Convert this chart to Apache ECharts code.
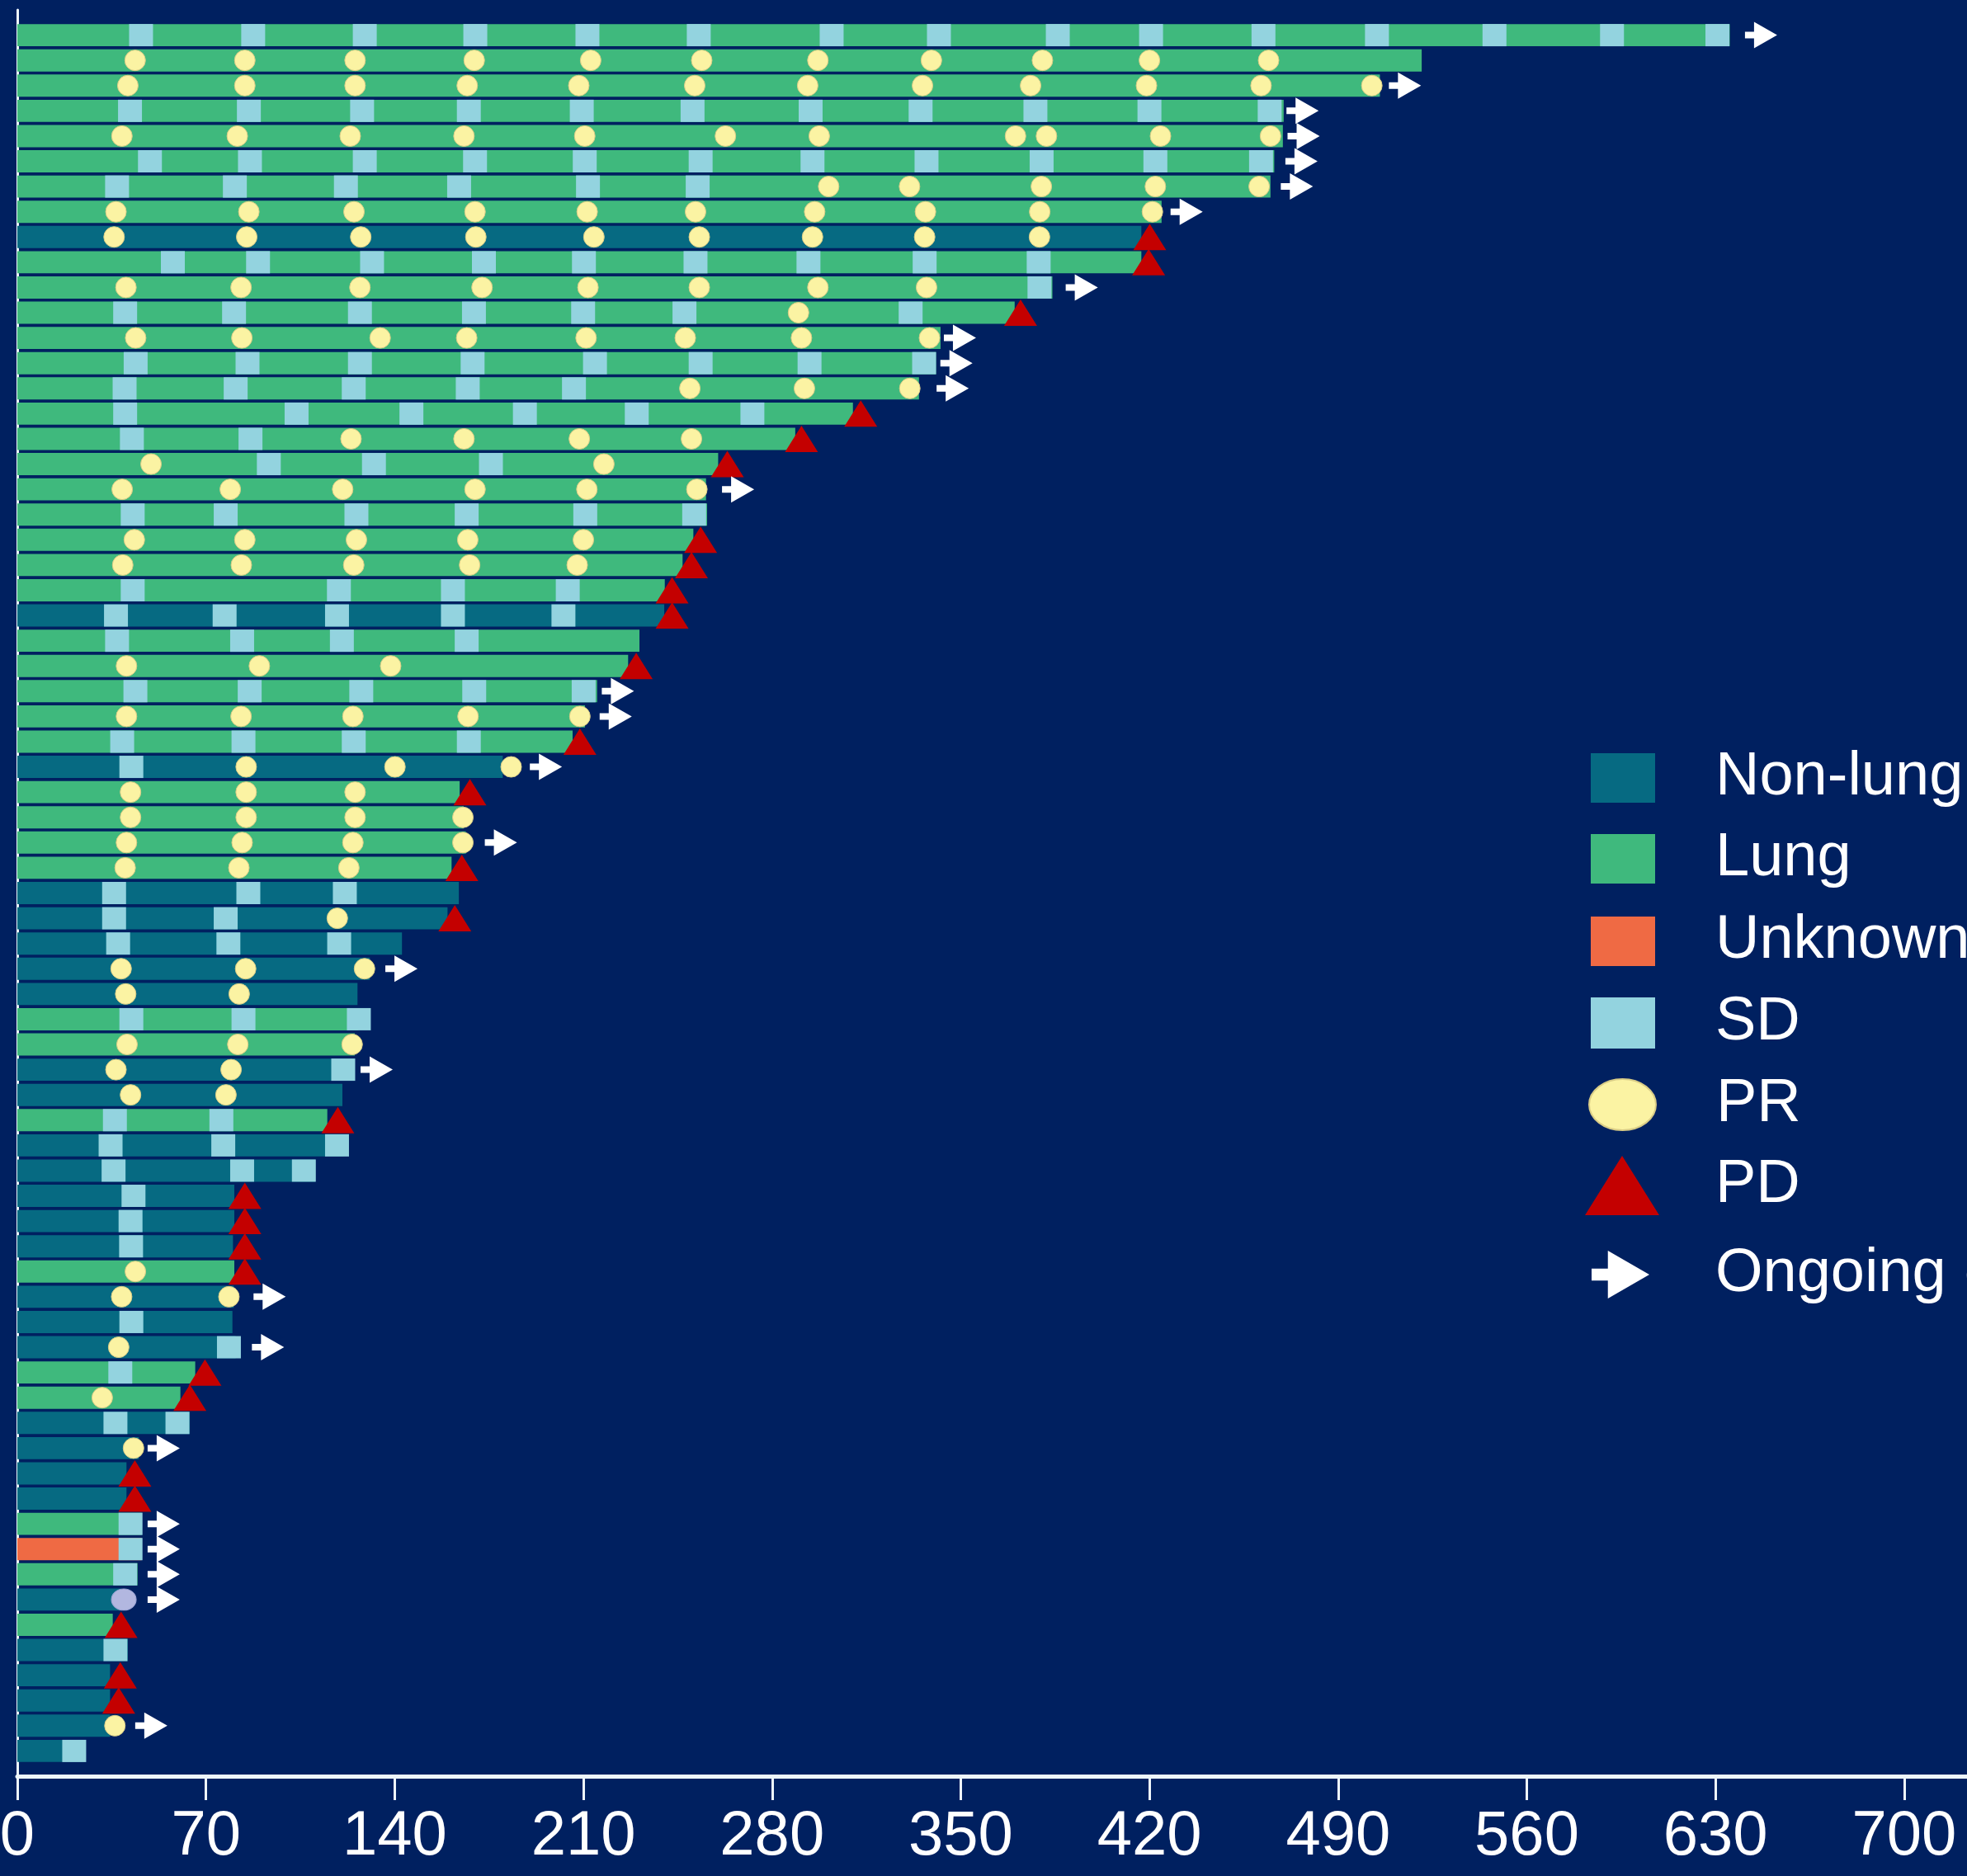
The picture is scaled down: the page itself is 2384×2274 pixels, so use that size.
<!DOCTYPE html>
<html>
<head>
<meta charset="utf-8">
<script src="https://cdn.jsdelivr.net/npm/echarts@6/dist/echarts.min.js"></script>
<style>
  html, body { margin: 0; padding: 0; background: #002060; }
  #chart { width: 2384px; height: 2274px; }
</style>
</head>
<body>
<div id="chart"></div>
<script>
// Tumour origin per patient, top row first: L = lung, N = non-lung, U = unknown
const tumorType = [
  'L','L','L','L','L','L','L','L','N','L',
  'L','L','L','L','L','L','L','L','L','L',
  'L','L','L','N','L','L','L','L','L','N',
  'L','L','L','L','N','N','N','N','N','L',
  'L','N','N','L','N','N','N','N','N','L',
  'N','N','N','L','L','N','N','N','N','L',
  'U','L','N','L','N','N','N','N','N'
];

// Time on treatment (days)
const durationDays = [
  635.3, 521, 505.5, 469.8, 469.5, 466.3, 464.9, 424.5, 417, 417,
  384, 370, 342.5, 340.8, 334.5, 310, 288.6, 260, 255.5, 255.9,
  250.8, 246.8, 240.2, 240, 230.8, 226.6, 215.1, 210.6, 206, 180.1,
  164.1, 165.6, 166.4, 161.1, 163.8, 159.6, 142.7, 130.8, 126.2, 126.5,
  125.2, 125, 120.6, 115, 121, 110.5, 80.5, 80.5, 80, 80.5,
  80.3, 79.8, 81, 66, 60.5, 64, 45.1, 40.5, 40.5, 46.1,
  46.1, 44.6, 38.5, 35.4, 41, 34.4, 34.4, 34.4, 24.7
];

// Assessment days with stable disease
const sdDays = [
  [45.9, 87.5, 128.9, 169.9, 211.5, 252.8, 302.1, 341.9, 386.0, 420.6, 462.3, 504.4, 548.0, 591.6, 630.7],
  [], [],
  [41.8, 85.9, 127.9, 167.5, 209.4, 250.5, 294.3, 335.1, 377.7, 420.0, 464.6],
  [],
  [49.2, 86.3, 128.9, 169.8, 210.5, 253.5, 295.0, 337.3, 380.0, 422.2, 461.4],
  [37.0, 80.7, 121.9, 163.9, 211.7, 252.4],
  [], [],
  [57.7, 89.3, 131.6, 173.1, 210.2, 251.6, 293.5, 336.6, 378.9],
  [379.2],
  [40.0, 80.4, 127.1, 169.4, 209.9, 247.5, 331.4],
  [],
  [43.9, 85.4, 127.1, 168.9, 214.3, 253.5, 293.9, 336.4],
  [39.8, 81.0, 124.8, 167.1, 206.5],
  [40.0, 103.6, 146.2, 188.3, 229.8, 272.7],
  [42.5, 86.5],
  [93.3, 132.3, 175.7],
  [],
  [42.8, 77.3, 125.8, 166.7, 210.7, 251.1],
  [], [],
  [42.8, 119.3, 161.6, 204.2],
  [36.6, 76.9, 118.6, 161.6, 202.6],
  [37.0, 83.4, 120.4, 166.7],
  [],
  [43.8, 86.2, 127.6, 169.5, 210.1],
  [],
  [38.9, 83.9, 124.8, 167.5],
  [42.3],
  [], [], [], [],
  [35.9, 85.7, 121.5],
  [35.9, 77.3],
  [37.4, 78.3, 119.4],
  [], [],
  [42.3, 83.9, 126.7],
  [],
  [120.9],
  [],
  [36.2, 75.7],
  [34.6, 76.4, 118.6],
  [35.7, 83.4, 106.3],
  [43.1], [42.0], [42.2],
  [], [],
  [42.3],
  [78.5],
  [38.2],
  [],
  [36.4, 59.4],
  [], [], [],
  [42.0], [42.0], [40.0],
  [], [],
  [36.4],
  [], [], [],
  [21.1]
];

// Assessment days with partial response
const prDays = [
  [],
  [43.7, 84.4, 125.3, 169.5, 212.7, 253.9, 297.0, 339.1, 380.3, 420.0, 464.2],
  [41.0, 84.4, 125.3, 166.9, 208.3, 251.3, 293.2, 335.8, 375.9, 418.9, 461.4, 502.5],
  [],
  [38.8, 81.6, 123.5, 165.7, 210.5, 262.7, 297.5, 370.3, 381.8, 424.1, 464.9],
  [],
  [301.0, 331.0, 379.9, 422.2, 460.7],
  [36.6, 85.9, 124.9, 169.8, 211.4, 251.6, 295.8, 336.9, 379.3, 421.1],
  [35.9, 85.1, 127.4, 170.1, 213.9, 253.0, 295.0, 336.6, 379.2],
  [],
  [40.3, 83.0, 127.1, 172.4, 211.7, 253.0, 297.0, 337.3],
  [289.8],
  [43.9, 83.3, 134.6, 166.7, 211.0, 247.8, 290.9, 338.4],
  [],
  [249.5, 292.0, 331.1],
  [],
  [123.8, 165.7, 208.5, 250.1],
  [49.6, 217.6],
  [38.9, 79.0, 120.7, 169.8, 211.3, 252.1],
  [],
  [43.4, 84.4, 125.8, 167.1, 210.0],
  [39.1, 83.1, 124.8, 167.8, 207.7],
  [], [], [],
  [40.5, 89.8, 138.5],
  [],
  [40.5, 83.0, 124.5, 167.2, 208.7],
  [],
  [84.9, 140.1, 183.2],
  [42.0, 84.9, 125.3],
  [42.0, 84.9, 125.3, 165.3],
  [40.5, 83.4, 124.5, 165.3],
  [40.0, 82.2, 123.0],
  [],
  [118.7],
  [],
  [38.5, 84.7, 128.8],
  [40.2, 82.3],
  [],
  [40.7, 81.8, 124.2],
  [36.6, 79.3],
  [42.0, 77.4],
  [], [], [], [], [], [],
  [43.8],
  [38.7, 78.5],
  [],
  [37.6],
  [],
  [31.5],
  [],
  [43.1],
  [], [], [], [], [],
  [39.5],
  [], [], [], [],
  [36.2],
  []
];

// Patients whose response marker is drawn in lavender
const lavenderPrPatients = [63];

// Day of progressive disease
const pdDay = [
  null, null, null, null, null, null, null, null, 420.1, 419.7,
  null, 372.2, null, null, null, 312.9, 290.9, 263.4, null, null,
  253.5, 250.1, 242.9, 242.9, null, 229.6, null, null, 208.7, null,
  167.9, null, null, 164.9, null, 162.3, null, null, null, null,
  null, null, null, 118.9, null, null, 84.4, 84.4, 84.4, 84.4,
  null, null, null, 69.6, 64.0, null, null, 43.6, 43.6, null,
  null, null, null, 38.5, null, 38.2, 37.6, null, null
];

// Position of the "ongoing" arrow
const ongoingDay = [
  646.9, null, 514.8, 476.8, 477.2, 476.4, 474.7, 433.8, null, null,
  394.9, null, 349.7, 348.4, 347.0, null, null, null, 267.4, null,
  null, null, null, null, null, null, 222.8, 222.0, null, 196.1,
  null, null, 179.4, null, null, null, null, 142.5, null, null,
  null, 133.3, null, null, null, null, null, null, null, null,
  93.6, null, 93.0, null, null, null, 54.3, null, null, 54.3,
  54.3, 54.3, 54.3, null, null, null, null, 49.7, null
];

const xTicks = [0, 70, 140, 210, 280, 350, 420, 490, 560, 630, 700];

const legendNames = {
  N: 'Non-lung', L: 'Lung', U: 'Unknown',
  SD: 'SD', PR: 'PR', PD: 'PD', ONGOING: 'Ongoing (on treatment)'
};

// ---- drawing ----
const COLORS = {
  N: '#066a82', L: '#3fb97d', U: '#ef6a44',
  SD: '#93d3df', PR: '#fbf3a3', PRedge: '#d9cc86',
  PRlav: '#b2b7e0', PD: '#c40000', arrow: '#ffffff',
  axis: '#eef6fb', text: '#ffffff'
};
const ARROW = 'path://M0,12 L11,12 L11,0 L39,16 L11,32 L11,20 L0,20 Z';
const ELLIPSE = 'path://M50,0C77.6,0,100,22.4,100,50C100,77.6,77.6,100,50,100C22.4,100,0,77.6,0,50C0,22.4,22.4,0,50,0Z';
const FONT = '"Liberation Sans", Arial, Helvetica, sans-serif';

const patientNo = durationDays.map((_, i) => i + 1);

function barSeries(code) {
  const color = COLORS[code];
  return {
    type: 'custom',
    name: legendNames[code],
    itemStyle: { color },
    encode: { x: 0, y: 1 },
    z: 1,
    data: patientNo.filter(p => tumorType[p - 1] === code).map(p => [durationDays[p - 1], p]),
    renderItem: (params, api) => {
      const row = api.value(1);
      const s = api.coord([0, row]);
      const e = api.coord([api.value(0), row]);
      const h = api.size([0, 1])[1] * 0.88;
      return {
        type: 'rect',
        shape: { x: s[0], y: s[1] - h / 2, width: e[0] - s[0], height: h },
        style: { fill: color }
      };
    }
  };
}

const sdPoints = [];
sdDays.forEach((days, i) => days.forEach(d => sdPoints.push([d, i + 1])));

const prPoints = [];
prDays.forEach((days, i) => days.forEach(d => {
  const p = i + 1;
  if (lavenderPrPatients.includes(p)) {
    prPoints.push({
      value: [d, p], symbol: ELLIPSE, symbolSize: [30, 26],
      itemStyle: { color: COLORS.PRlav, borderColor: '#9ea6d6' }
    });
  } else {
    prPoints.push([d, p]);
  }
}));

const pdPoints = [];
pdDay.forEach((d, i) => { if (d != null) pdPoints.push([d, i + 1]); });

const ongoingPoints = [];
ongoingDay.forEach((d, i) => { if (d != null) ongoingPoints.push([d, i + 1]); });

function legendItem(name, icon, w, h, cy, iconLeft) {
  const textLeft = 2079;
  const box = Math.max(h, 74);
  return {
    data: [name],
    orient: 'vertical',
    left: iconLeft,
    top: cy - box / 2,
    padding: 0,
    icon: icon,
    itemWidth: w,
    itemHeight: h,
    symbolKeepAspect: false,
    selectedMode: false,
    textStyle: {
      color: COLORS.text, fontSize: 74, fontFamily: FONT,
      padding: [0, 0, 0, textLeft - iconLeft - w - 5]
    }
  };
}

const option = {
  backgroundColor: '#002060',
  animation: false,
  grid: { left: 21, right: 0, top: 12, bottom: 121, containLabel: false, outerBoundsMode: 'none' },
  xAxis: {
    type: 'value',
    position: 'bottom',
    min: 0,
    max: 723.3,
    interval: 70,
    splitLine: { show: false },
    axisLine: { show: true, onZero: false, lineStyle: { color: COLORS.axis, width: 5 } },
    axisTick: { show: true, length: 29, lineStyle: { color: COLORS.axis, width: 3 }, customValues: xTicks },
    axisLabel: {
      color: COLORS.text, fontSize: 76, fontFamily: FONT, margin: 36,
      customValues: xTicks,
      formatter: v => (xTicks.includes(v) ? String(v) : '')
    }
  },
  yAxis: {
    type: 'value',
    min: 0,
    max: 70,
    inverse: true,
    splitLine: { show: false },
    axisLine: { show: true, onZero: false, lineStyle: { color: COLORS.axis, width: 3 } },
    axisTick: { show: false },
    axisLabel: { show: false }
  },
  legend: [
    legendItem(legendNames.N, 'rect', 78, 60, 943, 1928),
    legendItem(legendNames.L, 'rect', 78, 60, 1041, 1928),
    legendItem(legendNames.U, 'rect', 78, 60, 1141, 1928),
    legendItem(legendNames.SD, 'rect', 78, 62, 1240, 1928),
    legendItem(legendNames.PR, ELLIPSE, 81, 62, 1339, 1925),
    legendItem(legendNames.PD, 'triangle', 90, 72, 1437, 1921),
    legendItem(legendNames.ONGOING, ARROW, 70, 58, 1545, 1929)
  ],
  series: [
    barSeries('N'),
    barSeries('L'),
    barSeries('U'),
    {
      type: 'scatter', name: legendNames.SD, symbol: 'rect', symbolSize: [29, 27],
      itemStyle: { color: COLORS.SD, opacity: 1 }, z: 3, data: sdPoints
    },
    {
      type: 'scatter', name: legendNames.PR, symbol: 'circle', symbolSize: 25,
      itemStyle: { color: COLORS.PR, borderColor: COLORS.PRedge, borderWidth: 1, opacity: 1 },
      z: 4, data: prPoints
    },
    {
      type: 'scatter', name: legendNames.PD, symbol: 'triangle', symbolSize: [40, 32],
      itemStyle: { color: COLORS.PD, opacity: 1 }, z: 5, data: pdPoints
    },
    {
      type: 'scatter', name: legendNames.ONGOING, symbol: ARROW, symbolSize: [39, 32],
      itemStyle: { color: COLORS.arrow, opacity: 1 }, z: 6, data: ongoingPoints
    }
  ]
};

const chart = echarts.init(document.getElementById('chart'), null, { renderer: 'canvas' });
chart.setOption(option);
</script>
</body>
</html>
